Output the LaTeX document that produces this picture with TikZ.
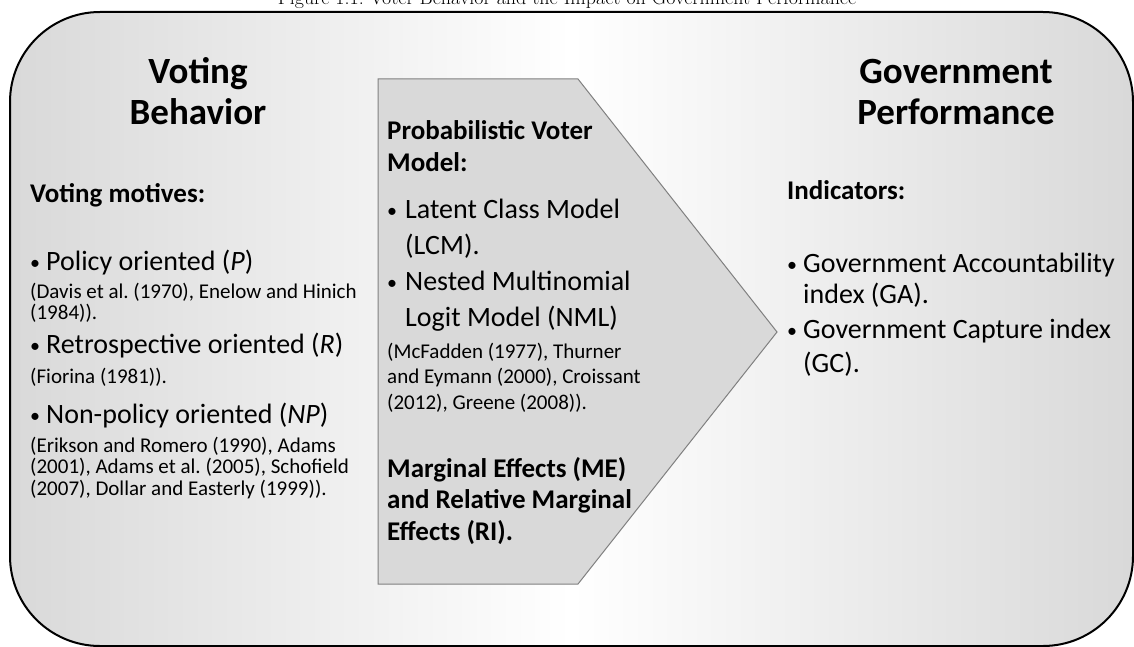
\documentclass[tikz,border=0pt]{standalone}
\usepackage{fontspec}
\newfontfamily\calib{Carlito}
\usepackage{tikz}
\frenchspacing
\newcommand{\bul}[1][16pt]{\makebox[#1][l]{\raisebox{0.5pt}{\fontsize{20}{20}\selectfont\textbullet}}}

\begin{document}
\begin{tikzpicture}[x=1pt,y=-1pt,
    txt/.style={anchor=base west,inner sep=0pt,align=left,font=\calib\fontsize{28}{36}\selectfont},
    sub/.style={txt,font=\calib\bfseries\fontsize{27}{31.5}\selectfont},
    refs/.style={txt,font=\calib\fontsize{21}{21.5}\selectfont},
    head/.style={anchor=base,inner sep=0pt,align=center,font=\calib\bfseries\fontsize{37}{41}\selectfont}]
    \useasboundingbox (0,0) rectangle (1134,647);
    % caption, cut by the page edge
    \node[anchor=base,inner sep=0pt,font=\fontsize{20}{24}\selectfont] (caption) at (567,5) {Figure 1.1: Voter Behavior and the Impact on Government Performance};
    % frame and arrow
    \draw[line width=2pt,rounded corners=90pt,left color=black!15,right color=black!15,middle color=white] (10,12) rectangle (1133,646);
    \draw[black!50,line width=1pt,fill=black!15] (378,79)--(578,79)--(777,332)--(578,584)--(378,584)--cycle;
    % left column (multi-line nodes sit on their last baseline)
    \node[head] (vb) at (198,125) {Voting\\Behavior};
    \node[sub] (motives) at (30,202) {Voting motives:};
    \node[txt] (pol) at (30,270) {\bul Policy oriented (\textit{P})};
    \node[refs] (polref) at (30,319.5) {(Davis et al. (1970), Enelow and Hinich\\(1984)).};
    \node[txt] (retro) at (30,353) {\bul Retrospective oriented (\textit{R})};
    \node[refs] (retroref) at (30,383) {(Fiorina (1981)).};
    \node[txt] (nonpol) at (30,423) {\bul Non-policy oriented (\textit{NP})};
    \node[refs] (nonpolref) at (30,495) {(Erikson and Romero (1990), Adams\\(2001), Adams et al. (2005), Schofield\\(2007), Dollar and Easterly (1999)).};
    % middle column
    \node[sub] (pvm) at (387,171.5) {Probabilistic Voter\\Model:};
    \node[txt] (lcm) at (387,254) {\bul[18pt]Latent Class Model\\\hspace*{18pt}(LCM).};
    \node[txt] (nml) at (387,326) {\bul[18pt]Nested Multinomial\\\hspace*{18pt}Logit Model (NML)};
    \node[refs,font=\calib\fontsize{21}{25.5}\selectfont] (nmlref) at (387,409) {(McFadden (1977), Thurner\\and Eymann (2000), Croissant\\(2012), Greene (2008)).};
    \node[sub] (me) at (387,540) {Marginal Effects (ME)\\and Relative Marginal\\Effects (RI).};
    % right column
    \node[head] (gp) at (956,125) {Government\\Performance};
    \node[sub] (ind) at (787,200) {Indicators:};
    \node[txt,font=\calib\fontsize{28}{31}\selectfont] (ga) at (787,303) {\bul Government Accountability\\\hspace*{16pt}index (GA).};
    \node[txt,font=\calib\fontsize{28}{34}\selectfont] (gc) at (787,372) {\bul Government Capture index\\\hspace*{16pt}(GC).};
\end{tikzpicture}
\end{document}
